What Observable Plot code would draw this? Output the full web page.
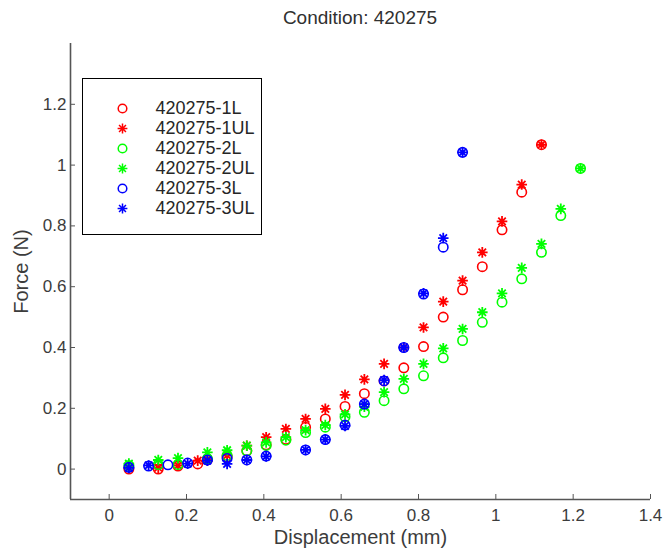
<!DOCTYPE html>
<html><head><meta charset="utf-8">
<script src="https://cdn.jsdelivr.net/npm/d3@7"></script>
<script src="https://cdn.jsdelivr.net/npm/@observablehq/plot@0.6"></script>
<style>
body{margin:0;background:#fff;font-family:"Liberation Sans",Arial,sans-serif;}
#wrap{position:relative;width:663px;height:549px;overflow:hidden;}
#title{position:absolute;left:70px;width:580px;top:6px;text-align:center;font-size:19px;line-height:24px;color:#303030;}
#legend{position:absolute;left:82px;top:78px;width:178px;height:155px;border:1.5px solid #000;background:#fff;}
</style></head><body>
<div id="wrap"><div id="chart"></div><div id="title"></div><div id="legend"></div></div>
<script>
const titleText = "Condition: 420275";
const xLabel = "Displacement (mm)";
const yLabel = "Force (N)";
const xDomain = [-0.1, 1.4];
const yDomain = [-0.1, 1.4];
const xTicks = [0, 0.2, 0.4, 0.6, 0.8, 1, 1.2, 1.4];
const yTicks = [0, 0.2, 0.4, 0.6, 0.8, 1, 1.2];

const seriesNames = ["420275-1L", "420275-1UL", "420275-2L", "420275-2UL", "420275-3L", "420275-3UL"];
const seriesColors = ["#ff0000", "#ff0000", "#00ff00", "#00ff00", "#0000ff", "#0000ff"];
const seriesKinds = ["circle", "asterisk", "circle", "asterisk", "circle", "asterisk"];

const x1 = [0.051, 0.127, 0.178, 0.229, 0.254, 0.305, 0.356, 0.406, 0.457, 0.508, 0.559, 0.610, 0.660, 0.711, 0.762, 0.813, 0.864, 0.914, 0.965, 1.016, 1.067, 1.118];
const y1L = [0.0, 0.0, 0.01, 0.017, 0.03, 0.04, 0.06, 0.08, 0.098, 0.138, 0.165, 0.206, 0.248, 0.29, 0.333, 0.403, 0.50, 0.59, 0.666, 0.787, 0.911, 1.067];
const y1UL = [0.005, 0.005, 0.012, 0.028, 0.032, 0.045, 0.077, 0.105, 0.132, 0.165, 0.198, 0.244, 0.295, 0.346, 0.40, 0.466, 0.551, 0.62, 0.713, 0.815, 0.936, 1.067];

const x2 = [0.051, 0.127, 0.178, 0.254, 0.305, 0.356, 0.406, 0.457, 0.508, 0.559, 0.610, 0.660, 0.711, 0.762, 0.813, 0.864, 0.914, 0.965, 1.016, 1.067, 1.118, 1.168, 1.219];
const y2L = [0.012, 0.015, 0.015, 0.034, 0.045, 0.06, 0.078, 0.095, 0.12, 0.138, 0.172, 0.187, 0.225, 0.264, 0.307, 0.366, 0.423, 0.483, 0.549, 0.626, 0.713, 0.834, 0.989];
const y2UL = [0.018, 0.03, 0.036, 0.055, 0.062, 0.077, 0.088, 0.105, 0.128, 0.145, 0.18, 0.205, 0.253, 0.297, 0.346, 0.397, 0.461, 0.516, 0.578, 0.662, 0.741, 0.856, 0.989];

const x3L = [0.051, 0.102, 0.152, 0.203, 0.254, 0.305, 0.356, 0.406, 0.508, 0.559, 0.610, 0.660, 0.711, 0.762, 0.813, 0.864, 0.914];
const y3L = [0.006, 0.01, 0.014, 0.02, 0.03, 0.035, 0.03, 0.043, 0.063, 0.097, 0.145, 0.214, 0.29, 0.40, 0.576, 0.73, 1.042];
const x3UL = [0.051, 0.102, 0.203, 0.254, 0.305, 0.356, 0.406, 0.508, 0.559, 0.610, 0.660, 0.711, 0.762, 0.813, 0.864, 0.914];
const y3UL = [0.004, 0.012, 0.018, 0.028, 0.017, 0.03, 0.042, 0.063, 0.097, 0.142, 0.214, 0.293, 0.40, 0.578, 0.76, 1.042];

const seriesX = [x1, x1, x2, x2, x3L, x3UL];
const seriesY = [y1L, y1UL, y2L, y2UL, y3L, y3UL];

const asterisk = {
  draw(ctx, size) {
    const r = Math.sqrt(size / Math.PI), d = r * Math.SQRT1_2;
    ctx.moveTo(-r, 0); ctx.lineTo(r, 0);
    ctx.moveTo(0, -r); ctx.lineTo(0, r);
    ctx.moveTo(-d, -d); ctx.lineTo(d, d);
    ctx.moveTo(-d, d); ctx.lineTo(d, -d);
  }
};
const symFor = k => k === "circle" ? "circle" : asterisk;
const rFor = k => k === "circle" ? 4.7 : 5.3;
const swFor = k => k === "circle" ? 1.6 : 1.8;
const fmt = d => String(+d.toFixed(2));
const axisColor = "#555";
const textColor = "#3c3c3c";
const fontFamily = "Liberation Sans, Arial, sans-serif";

const dotMarks = seriesNames.map((name, s) =>
  Plot.dot(d3.range(seriesX[s].length), {
    x: i => seriesX[s][i], y: i => seriesY[s][i],
    symbol: symFor(seriesKinds[s]), r: rFor(seriesKinds[s]),
    stroke: seriesColors[s], fill: "none", strokeWidth: swFor(seriesKinds[s])
  })
);

const chart = Plot.plot({
  width: 663, height: 549,
  marginLeft: 70, marginRight: 13, marginTop: 43, marginBottom: 50,
  style: {fontFamily, fontSize: "17px", color: textColor, background: "white", overflow: "visible"},
  x: {domain: xDomain},
  y: {domain: yDomain},
  marks: [
    Plot.ruleX([xDomain[0]], {stroke: axisColor, strokeWidth: 1.6}),
    Plot.ruleY([yDomain[0]], {stroke: axisColor, strokeWidth: 1.6}),
    Plot.axisX(xTicks, {tickSize: 5, dy: -5, text: null, label: null, stroke: axisColor}),
    Plot.axisX(xTicks, {tickSize: 0, tickPadding: 9, tickFormat: fmt, label: null, fontSize: 17, fill: textColor}),
    Plot.axisY(yTicks, {tickSize: 5, dx: 5, text: null, label: null, stroke: axisColor}),
    Plot.axisY(yTicks, {tickSize: 0, tickPadding: 4, tickFormat: fmt, label: null, fontSize: 17, fill: textColor}),
    Plot.text([xLabel], {frameAnchor: "bottom", textAnchor: "middle", lineAnchor: "middle", dy: 38, fontSize: 20, fill: textColor}),
    Plot.text([yLabel], {frameAnchor: "left", textAnchor: "middle", lineAnchor: "middle", dx: -49, rotate: -90, fontSize: 20, fill: textColor}),
    ...dotMarks
  ]
});
document.getElementById("chart").appendChild(chart);
document.getElementById("title").textContent = titleText;

const legend = Plot.plot({
  width: 178, height: 155, margin: 0,
  style: {fontFamily, fontSize: "18px", color: "#262626", background: "white"},
  x: {axis: null, domain: [0, 1]},
  y: {type: "point", domain: seriesNames, range: [16, 141], axis: null},
  marks: [
    ...seriesNames.map((name, s) => Plot.dot([name], {
      y: d => d, frameAnchor: "left", dx: 39,
      symbol: symFor(seriesKinds[s]), r: rFor(seriesKinds[s]) - 0.4,
      stroke: seriesColors[s], fill: "none", strokeWidth: 1.5
    })),
    Plot.text(seriesNames, {y: d => d, text: d => d, frameAnchor: "left", textAnchor: "start", lineAnchor: "middle", dx: 72, fontSize: 18, fill: "#262626"})
  ]
});
document.getElementById("legend").appendChild(legend);
</script>
</body></html>
